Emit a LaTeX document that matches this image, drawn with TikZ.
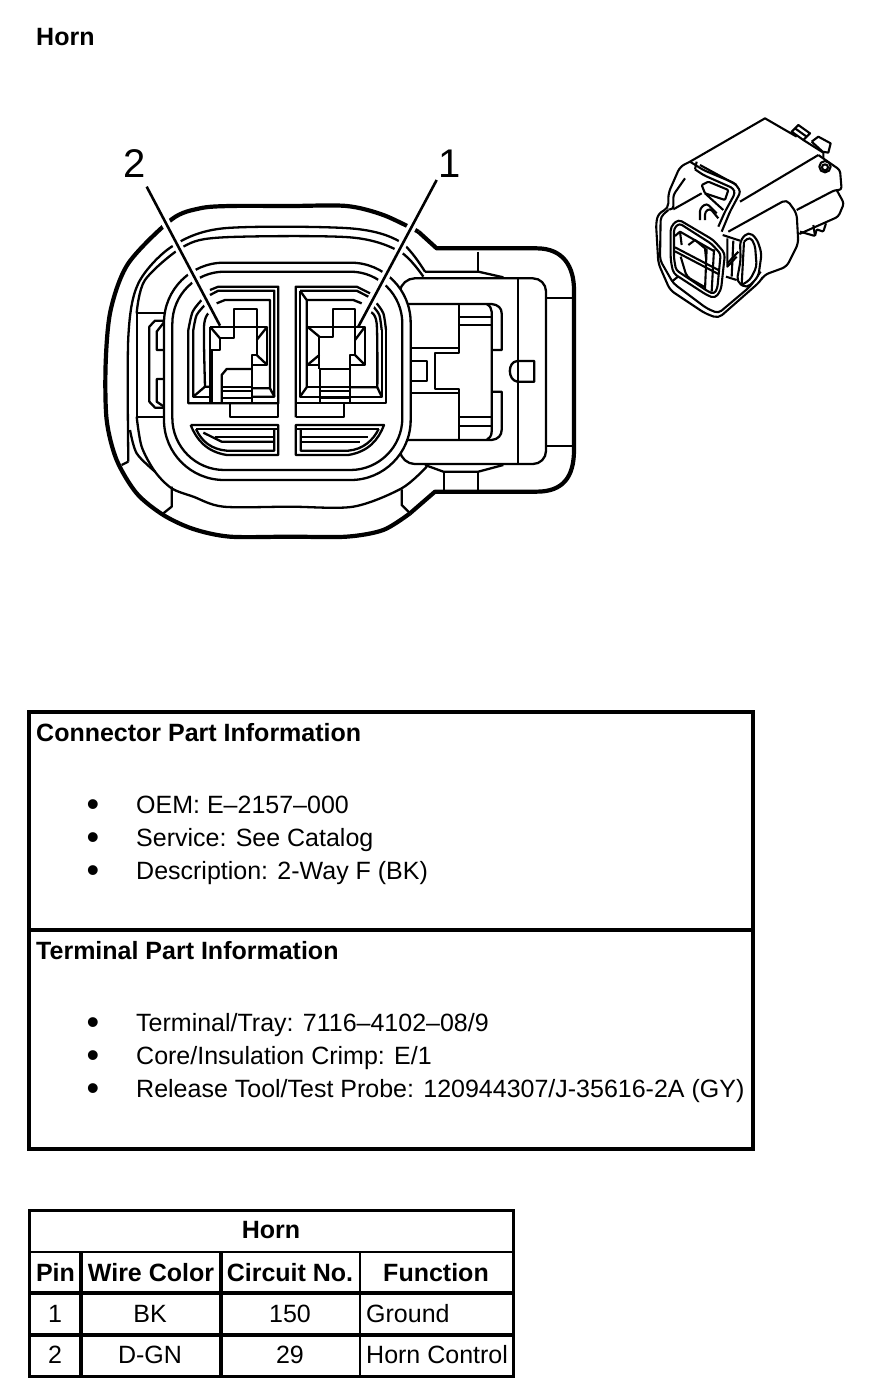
\documentclass[tikz,border=0pt]{standalone}
\usepackage{fontspec}
\setmainfont{Liberation Sans}
\usetikzlibrary{positioning,calc}
\tikzstyle{ln}=[line width=2.3pt, line join=round]
\tikzstyle{fine}=[line width=2.1pt, line join=round]
\tikzstyle{hvy}=[line width=4.2pt, line join=round]
\tikzstyle{frame}=[line width=4pt]
\tikzstyle{lead}=[line width=2.6pt]
\tikzstyle{halo}=[line width=9pt, white]
\tikzstyle{txt}=[anchor=base west, inner sep=0pt, font=\fontsize{25}{28}\selectfont]
\tikzstyle{bld}=[txt, font=\fontsize{25}{28}\selectfont\bfseries]
\tikzstyle{cell}=[anchor=base, inner sep=0pt, font=\fontsize{25}{28}\selectfont]
\tikzstyle{head}=[cell, font=\fontsize{25}{28}\selectfont\bfseries]
\tikzstyle{pinnum}=[anchor=base, inner sep=0pt, font=\fontsize{40}{42}\selectfont]
\tikzstyle{bul}=[anchor=base, inner sep=0pt, font=\fontsize{36}{36}\selectfont]
\begin{document}
\begin{tikzpicture}[x=1pt,y=-1pt]
	\useasboundingbox (0,0) rectangle (880,1398);
	\node[bld] (title) at (36,45.5) {Horn};
	% connector, front view
	\begin{scope}[shift={(90,130)},scale=1/3]
		% outer body
		\draw[hvy] (985,305) -- (1040,355) -- (1340,355) .. controls (1420,355) and (1452,410) .. (1452,480) -- (1452,960) .. controls (1452,1040) and (1420,1085) .. (1340,1085) -- (1035,1085) -- (960,1150);
		\draw[hvy] plot[smooth] coordinates {(960,1150) (880,1200) (770,1220) (600,1220) (420,1220) (310,1197) (220,1155) (140,1090) (80,990) (50,870) (47,700) (62,540) (115,400) (245,268) (330,235) (420,228) (600,228) (770,228) (880,255) (985,305)};
		% rings of the body
		\draw[ln] plot[smooth] coordinates {(115,995) (115,620) (145,460) (245,350) (400,295) (780,295) (930,335) (1005,425)};
		\draw[ln] plot[smooth] coordinates {(140,550) (165,450) (280,350) (400,322) (780,322) (930,365) (1000,440)};
		\draw[ln] (115,995) -- (95,1005);
		\draw[ln] plot[smooth] coordinates {(140,860) (155,950) (195,1025) (245,1075) (310,1100) (400,1130) (600,1130) (790,1130) (935,1075) (1010,1010)};
		\draw[ln] plot[smooth] coordinates {(120,900) (140,970) (195,1025)};
		\draw[ln] (245,1070) -- (245,1130) -- (220,1150);
		\draw[ln] (935,1078) -- (935,1125) -- (960,1150);
		% clip on the left
		\draw[ln] (222,550) -- (140,550) -- (140,860) -- (222,860);
		\draw[ln] (222,572) -- (195,572) -- (178,590) -- (178,815) -- (195,833) -- (222,833);
		\draw[ln] (222,577) -- (200,605) -- (200,660) -- (225,660);
		\draw[ln] (225,747) -- (200,747) -- (200,815) -- (222,830);
		% latch on the right
		\draw[ln] (1005,425) -- (1165,425) -- (1240,442);
		\draw[ln] (1165,365) -- (1165,425);
		\draw[ln] (1005,1005) -- (1060,1025) -- (1165,1025) -- (1240,1005);
		\draw[ln] (1062,1025) -- (1062,1085);
		\draw[ln] (1165,1025) -- (1165,1085);
		\draw[ln, fill=white, rounded corners=13pt] (930,480) -- (935,445) -- (1368,445) -- (1368,1002) -- (935,1002) -- (930,965);
		\draw[ln] (1285,445) -- (1285,1002);
		\draw[ln] (1368,505) -- (1452,505);
		\draw[ln] (1368,948) -- (1452,948);
		\draw[ln] (1333,693) -- (1282,693) .. controls (1252,695) and (1252,750) .. (1282,755) -- (1333,755) -- cycle;
		\draw[ln] (945,522) -- (1205,522) .. controls (1225,524) and (1235,535) .. (1235,550) -- (1235,660) -- (1205,660);
		\draw[ln] (1190,522) .. controls (1200,528) and (1205,535) .. (1205,545) -- (1205,905) .. controls (1205,918) and (1198,925) .. (1190,930);
		\draw[ln] (945,930) -- (1205,930) .. controls (1225,928) and (1235,915) .. (1235,900) -- (1235,785) -- (1205,785);
		\draw[ln] (1108,522) -- (1108,670) -- (1035,670) -- (1035,778) -- (1108,778) -- (1108,930);
		\draw[ln] (1108,562) -- (1205,562);
		\draw[ln] (1108,585) -- (1205,585);
		\draw[ln] (1108,862) -- (1205,862);
		\draw[ln] (1108,888) -- (1205,888);
		\draw[ln] (962,655) -- (1108,655);
		\draw[ln] (962,790) -- (1108,790);
		\draw[ln] (962,692) -- (1010,692) -- (1010,752) -- (962,752);
		% centre shroud
		\draw[ln, fill=white, rounded corners=60pt] (222,398) rectangle (962,1050);
		\draw[ln, rounded corners=52pt] (247,425) rectangle (937,1020);
		% left cavity
		\draw[ln] plot[smooth] coordinates {(335,510) (308,545) (295,600)};
		\draw[ln] (295,600) -- (295,820) -- (565,820) -- (565,470) -- (385,470) -- (360,480);
		\draw[ln] (360,495) -- (385,482) -- (553,482) -- (553,800) -- (485,800);
		\draw[ln] plot[smooth] coordinates {(345,525) (320,555) (310,600)};
		\draw[ln] (310,600) -- (310,800) -- (345,770) -- (360,770);
		\draw[ln] (310,800) -- (360,800);
		\draw[ln] (380,520) -- (405,510) -- (540,510) -- (540,775) -- (485,775);
		\draw[ln] (540,775) -- (553,800);
		\draw[ln] plot[smooth] coordinates {(355,550) (342,590) (345,770)};
		\draw[ln] (432,590) -- (432,537) -- (500,537) -- (500,590);
		\draw[ln] (360,590) -- (532,590) -- (532,705) -- (485,705);
		\draw[ln] (360,590) -- (360,660);
		\draw[hvy] (362,660) -- (362,820);
		\draw[ln] (360,660) -- (390,660) -- (390,625) -- (432,625) -- (432,590);
		\draw[ln] (360,590) -- (390,625);
		\draw[ln] (500,590) -- (500,675) -- (485,675) -- (485,820);
		\draw[ln] (500,630) -- (532,590);
		\draw[ln] (500,675) -- (532,705);
		\draw[ln] (395,820) -- (395,735) -- (410,717) -- (485,717);
		\draw[ln] (395,770) -- (485,770);
		\draw[ln] (395,782) -- (485,782);
		\draw[ln] (395,805) -- (485,805);
		\draw[ln] (420,820) -- (420,862) -- (565,862) -- (565,820);
		% right cavity
		\draw[ln] (617,862) -- (763,862) -- (763,820);
		\draw[ln] (617,862) -- (617,470) -- (800,470) -- (840,490);
		\draw[ln] (617,820) -- (888,820) -- (888,600);
		\draw[ln] plot[smooth] coordinates {(888,600) (880,550) (860,520)};
		\draw[ln] (630,482) -- (630,800) -- (875,800) -- (875,600);
		\draw[ln] plot[smooth] coordinates {(875,600) (868,555) (850,530)};
		\draw[ln] (630,482) -- (800,482) -- (835,500);
		\draw[ln] (630,482) -- (650,510) -- (650,772) -- (630,800);
		\draw[ln] (650,510) -- (790,510) -- (815,520);
		\draw[ln] plot[smooth] coordinates {(840,545) (860,580) (862,772)};
		\draw[ln] (650,772) -- (690,772);
		\draw[ln] (780,772) -- (862,772) -- (875,800);
		\draw[ln] (728,590) -- (728,537) -- (795,537) -- (795,590);
		\draw[ln] (652,590) -- (825,590) -- (825,705) -- (780,705);
		\draw[ln] (652,590) -- (652,705) -- (690,705);
		\draw[ln] (728,590) -- (728,620) -- (688,620) -- (688,717);
		\draw[ln] (688,620) -- (652,590);
		\draw[ln] (688,675) -- (652,705);
		\draw[ln] (795,590) -- (795,675) -- (780,675) -- (780,820);
		\draw[ln] (795,630) -- (825,590);
		\draw[ln] (795,675) -- (825,705);
		\draw[ln] (688,717) -- (780,717);
		\draw[ln] (690,717) -- (690,820);
		\draw[ln] (690,770) -- (780,770);
		\draw[ln] (690,782) -- (780,782);
		\draw[ln] (690,805) -- (780,805);
		% slots
		\draw[ln] (302,885) -- (565,885) -- (565,975) -- (410,975) .. controls (350,965) and (320,930) .. (302,885);
		\draw[ln] (318,897) -- (565,897);
		\draw[ln] (318,897) .. controls (335,935) and (365,958) .. (410,962) -- (553,962) -- (553,897);
		\draw[ln] (340,908) -- (395,935) -- (553,935);
		\draw[ln] (375,922) -- (553,922);
		\draw[ln] (617,885) -- (882,885) .. controls (865,930) and (835,965) .. (775,975) -- (617,975) -- cycle;
		\draw[ln] (617,897) -- (866,897);
		\draw[ln] (632,897) -- (632,962) -- (775,962) .. controls (820,958) and (850,930) .. (866,897);
		\draw[ln] (632,920) -- (835,920);
		\draw[ln] (632,935) -- (810,935);
		% pin labels and leaders
		\coordinate (leadtwoa) at (170,170);
		\coordinate (leadtwob) at (390,587);
		\coordinate (leadonea) at (1040,150);
		\coordinate (leadoneb) at (805,590);
		\draw[halo] (leadtwoa) -- ($(leadtwoa)!0.9!(leadtwob)$);
		\draw[halo] (leadonea) -- ($(leadonea)!0.9!(leadoneb)$);
		\draw[lead] (leadtwoa) -- (leadtwob);
		\draw[lead] (leadonea) -- (leadoneb);
	\end{scope}
	\node[pinnum] (pintwo) at (134.5,177) {2};
	\node[pinnum] (pinone) at (450,177) {1};
	% connector, small view
	\begin{scope}[shift={(640,110)},scale=1/3]
		\draw[fine] (150,155) -- (375,25) -- (470,80);
		\draw[fine] (455,65) -- (475,45) -- (510,70) -- (490,90) -- cycle;
		\draw[fine] (465,55) -- (500,80);
		\draw[fine] (515,95) -- (535,80) -- (572,100) -- (565,128) -- (548,125) -- (515,95);
		\draw[fine] (490,90) -- (550,128) -- (550,145);
		\draw[fine] (300,275) -- (535,135);
		\draw[fine, rounded corners=3pt] (535,135) -- (600,180) -- (605,240) -- (585,240) -- (470,300);
		\draw[fine, rounded corners=3pt] (590,240) -- (612,280) -- (595,320) -- (478,372);
		\draw[fine] (555,170) circle (17);
		\draw[fine] (555,172) circle (9);
		\draw[fine, rounded corners=1pt] (480,365) -- (525,378) -- (530,358) -- (550,365) -- (558,340);
		\draw[fine] (525,378) -- (520,345);
		% housing
		\draw[fine, rounded corners=5pt] (150,155) -- (120,170) -- (85,250) -- (85,295) -- (55,310) -- (48,340) -- (55,460) -- (90,540) -- (195,610) -- (235,625) -- (360,515) -- (372,495) -- (440,470) -- (475,400) -- (470,310) -- (440,268) -- (265,365);
		\draw[fine, rounded corners=4pt] (85,300) -- (62,320) -- (60,450) -- (100,520) -- (200,595) -- (235,610) -- (330,530) -- (362,485);
		\draw[fine] (95,515) -- (120,495);
		\draw[fine, rounded corners=3pt] (135,205) -- (100,255) -- (100,298) -- (85,298);
		\draw[fine, rounded corners=1pt] (100,298) -- (185,250);
		% clip
		\draw[fine, rounded corners=3pt] (150,155) -- (190,180) -- (285,220) -- (302,245) -- (270,305) -- (245,365);
		\draw[fine, rounded corners=3pt] (165,178) -- (190,195) -- (280,235) -- (285,250) -- (255,305) -- (235,350);
		\draw[fine] (170,155) -- (165,178);
		\draw[fine] (180,165) -- (290,225);
		\draw[fine, rounded corners=1pt] (185,225) -- (205,215) -- (265,240) -- (255,270) -- (195,250) -- cycle;
		\draw[fine] (195,250) -- (250,300);
		\draw[fine, rounded corners=3pt] (180,330) -- (180,295) -- (200,280) -- (230,310);
		\draw[fine, rounded corners=3pt] (195,330) -- (195,305) -- (210,295) -- (235,325);
		% front face
		\draw[fine, fill=white, rounded corners=4pt] (92,350) -- (115,328) -- (220,390) -- (255,430) -- (243,540) -- (225,565) -- (200,555) -- (100,490) -- (92,450) -- cycle;
		\draw[fine, rounded corners=3pt] (102,355) -- (118,340) -- (215,402) -- (242,432) -- (232,535) -- (222,552) -- (205,545) -- (108,480) -- (102,445) -- cycle;
		\draw[fine] (105,378) -- (120,365) -- (225,425);
		\draw[fine] (105,412) -- (235,480);
		\draw[fine] (105,424) -- (235,492);
		\draw[fine] (120,365) -- (125,405);
		\draw[fine] (145,405) -- (165,390) -- (195,415) -- (198,445);
		\draw[fine] (200,415) -- (195,540);
		\draw[fine] (222,418) -- (215,545);
		\draw[fine, rounded corners=4pt] (122,440) -- (140,500) -- (192,530);
		% side lobe
		\draw[fine, fill=white, rounded corners=5pt] (300,392) -- (325,365) -- (350,385) -- (365,430) -- (355,500) -- (320,535) -- (290,515) -- (302,450) -- cycle;
		\draw[fine, rounded corners=4pt] (312,395) -- (330,380) -- (345,405) -- (350,470) -- (330,510) -- (305,525);
		\draw[fine] (312,395) -- (305,525);
		\draw[fine] (248,375) -- (300,392);
		\draw[fine] (262,385) -- (262,470) -- (290,440);
		\draw[fine] (258,500) -- (290,510);
		\draw[fine] (280,392) -- (275,500);
		\draw[fine] (262,460) -- (295,425);
	\end{scope}
	% part information
	\draw[frame] (29,711.5) rectangle (753,1149);
	\draw[frame] (29,930) -- (753,930);
	\node[bld] (connhead) at (36,741) {Connector Part Information};
	\node[bul] (conna) at (93,816) {\textbullet};
	\node[bul] (connb) at (93,849) {\textbullet};
	\node[bul] (connc) at (93,882) {\textbullet};
	\node[txt] (oem) at (136,813.5) {OEM: E–2157–000};
	\node[txt] (service) at (136,846.5) {Service: See Catalog};
	\node[txt] (descr) at (136,879.5) {Description: 2-Way F (BK)};
	\node[bld] (termhead) at (36,959) {Terminal Part Information};
	\node[bul] (terma) at (93,1034) {\textbullet};
	\node[bul] (termb) at (93,1067) {\textbullet};
	\node[bul] (termc) at (93,1100) {\textbullet};
	\node[txt] (tray) at (136,1031.5) {Terminal/Tray: 7116–4102–08/9};
	\node[txt] (crimp) at (136,1064.5) {Core/Insulation Crimp: E/1};
	\node[txt] (tool) at (136,1097.5) {Release Tool/Test Probe: 120944307/J-35616-2A (GY)};
	% pin table
	\draw[line width=3pt] (29,1210) rectangle (513.5,1376);
	\draw[line width=2.5pt] (29,1252) -- (513.5,1252);
	\draw[frame] (29,1293) -- (513.5,1293);
	\draw[frame] (29,1335) -- (513.5,1335);
	\draw[frame] (81,1252) -- (81,1376);
	\draw[line width=3.2pt] (221,1252) -- (221,1376);
	\draw[line width=2.6pt] (360,1252) -- (360,1376);
	\node[head] (tabhead) at (271,1238.5) {Horn};
	\node[head] (hpin) at (55.5,1281) {Pin};
	\node[head] (hwire) at (151,1281) {Wire Color};
	\node[head] (hcirc) at (290,1281) {Circuit No.};
	\node[head] (hfunc) at (436,1281) {Function};
	\node[cell] (pina) at (55,1322.5) {1};
	\node[cell] (wirea) at (150,1322.5) {BK};
	\node[cell] (circa) at (290,1322.5) {150};
	\node[txt] (funca) at (366,1322.5) {Ground};
	\node[cell] (pinb) at (55,1363.5) {2};
	\node[cell] (wireb) at (150,1363.5) {D-GN};
	\node[cell] (circb) at (290,1363.5) {29};
	\node[txt] (funcb) at (366,1363.5) {Horn Control};
\end{tikzpicture}
\end{document}
